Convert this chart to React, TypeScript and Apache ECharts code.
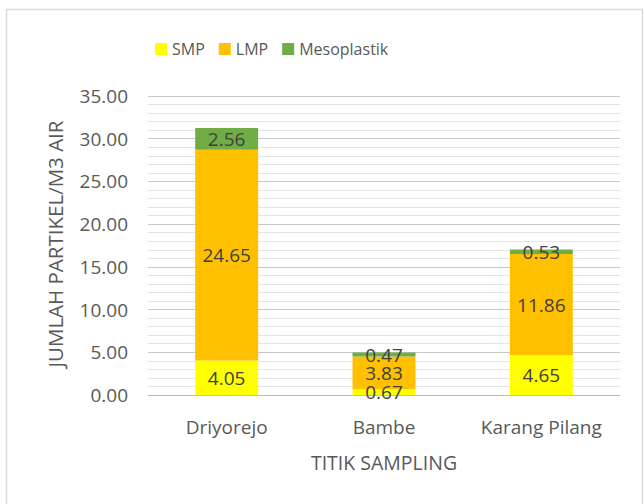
import React, { useEffect, useRef } from "react";
import * as echarts from "echarts";

const categories = ["Driyorejo", "Bambe", "Karang Pilang"];
const smpValues = [4.05, 0.67, 4.65];
const lmpValues = [24.65, 3.83, 11.86];
const mesoValues = [2.56, 0.47, 0.53];
const seriesNames = ["SMP", "LMP", "Mesoplastik"];
const yTitle = "JUMLAH PARTIKEL/M3 AIR";
const xTitle = "TITIK SAMPLING";

const FONT = "Open Sans";

export default function App() {
  const ref = useRef<HTMLDivElement>(null);
  useEffect(() => {
    if (!ref.current) return;
    const chart = echarts.init(ref.current, undefined, { renderer: "svg" });
    const label = {
      show: true,
      position: "inside",
      color: "#404040",
      fontFamily: FONT,
      fontSize: 19,
      formatter: (p: any) => Number(p.value).toFixed(2),
    };
    chart.setOption({
      animation: false,
      backgroundColor: "#ffffff",
      graphic: [
        {
          type: "rect",
          shape: { x: 6.5, y: 9.5, width: 636, height: 500 },
          style: { fill: "none", stroke: "#d9d9d9", lineWidth: 1.5 },
          silent: true,
        },
        {
          type: "text",
          x: 55,
          y: 244,
          rotation: Math.PI / 2,
          style: {
            text: yTitle,
            fill: "#595959",
            font: `20.5px "${FONT}"`,
            align: "center",
            verticalAlign: "middle",
          },
          silent: true,
        },
      ],
      legend: {
        left: 150,
        top: 36,
        itemWidth: 12,
        itemHeight: 12,
        itemGap: 14,
        icon: "rect",
        textStyle: { color: "#595959", fontFamily: FONT, fontSize: 16, padding: [0, 0, 0, 0] },
        data: seriesNames,
      },
      grid: { left: 148, right: 24, top: 96, bottom: 109 },
      xAxis: {
        type: "category",
        data: categories,
        axisLine: { lineStyle: { color: "#bfbfbf" } },
        axisTick: { show: false },
        axisLabel: { color: "#595959", fontFamily: FONT, fontSize: 19, margin: 22 },
        name: xTitle,
        nameLocation: "middle",
        nameGap: 57,
        nameTextStyle: { color: "#595959", fontFamily: FONT, fontSize: 19.5 },
      },
      yAxis: {
        type: "value",
        min: 0,
        max: 35,
        interval: 5,
        axisLine: { show: false },
        axisTick: { show: false },
        axisLabel: {
          color: "#595959",
          fontFamily: FONT,
          fontSize: 19,
          margin: 20,
          formatter: (v: number) => v.toFixed(2),
        },
        splitLine: { lineStyle: { color: "#c8c8c8" } },
        minorTick: { show: false, splitNumber: 5 },
        minorSplitLine: { show: true, lineStyle: { color: "#e4e4e4" } },
      },
      series: [
        {
          name: seriesNames[0],
          type: "bar",
          stack: "total",
          data: smpValues,
          barCategoryGap: "60%",
          itemStyle: { color: "#FFFF00" },
          label,
        },
        {
          name: seriesNames[1],
          type: "bar",
          stack: "total",
          data: lmpValues,
          itemStyle: { color: "#FFC000" },
          label,
        },
        {
          name: seriesNames[2],
          type: "bar",
          stack: "total",
          data: mesoValues,
          itemStyle: { color: "#70AD47" },
          label,
        },
      ],
    });
    return () => chart.dispose();
  }, []);
  return (
    <div
      ref={ref}
      style={{ position: "fixed", left: 0, top: 0, width: 644, height: 504 }}
    />
  );
}
